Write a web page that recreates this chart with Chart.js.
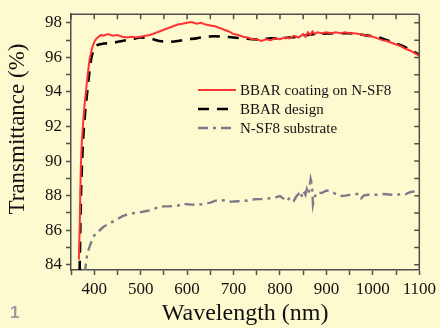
<!DOCTYPE html>
<html>
<head>
<meta charset="utf-8">
<script src="https://cdn.jsdelivr.net/npm/chart.js@4"></script>
<style>
  body { margin: 0; background: #fefacf; }
  #wrap { position: relative; width: 440px; height: 328px; background: #fefacf; }
  #num { position: absolute; left: 10px; top: 303px; font: bold 17px "Liberation Sans", Arial, sans-serif; color: #9a9a9a; }
</style>
</head>
<body>
<div id="wrap">
  <canvas id="linechart" width="440" height="328"></canvas>
  <div id="num">1</div>
</div>
<script>
// BBAR coating on N-SF8 (measured)
var coatWl = [367, 369, 371, 373, 376, 379, 382, 386, 390, 395, 400, 405, 410, 415, 420, 430, 440, 450, 460, 470,
  480, 490, 500, 510, 520, 530, 540, 550, 560, 570, 580, 590, 600, 610, 620, 630, 640, 650, 660, 670,
  680, 690, 700, 710, 720, 730, 740, 750, 760, 770, 780, 790, 800, 810, 820, 830, 840, 850, 855, 860,
  865, 870, 875, 880, 890, 900, 910, 920, 930, 940, 950, 960, 970, 980, 990, 1000, 1010, 1020, 1030, 1040,
  1050, 1060, 1070, 1080, 1090, 1100];
var coatT = [84.3, 86.5, 89.5, 91.0, 92.2, 93.2, 94.0, 95.0, 95.9, 96.5, 96.9, 97.1, 97.2, 97.3, 97.25, 97.35, 97.25, 97.3, 97.2, 97.15,
  97.2, 97.15, 97.2, 97.25, 97.3, 97.4, 97.5, 97.6, 97.7, 97.8, 97.9, 97.95, 98.0, 98.05, 97.95, 98.0, 97.9, 97.85, 97.8, 97.7,
  97.6, 97.5, 97.35, 97.3, 97.2, 97.15, 97.05, 97.05, 96.95, 97.05, 97.0, 97.1, 97.05, 97.15, 97.1, 97.25, 97.15, 97.35, 97.2, 97.45,
  97.3, 97.5, 97.35, 97.45, 97.4, 97.45, 97.4, 97.45, 97.4, 97.45, 97.4, 97.4, 97.35, 97.3, 97.25, 97.2, 97.1, 97.0, 96.95, 96.85,
  96.75, 96.65, 96.5, 96.4, 96.25, 96.1];

// BBAR design
var designWl = [368, 370, 372, 374, 376, 378, 381, 385, 389, 394, 400, 405, 420, 440, 460, 480, 500, 520, 540, 560,
  580, 600, 620, 640, 660, 680, 700, 720, 740, 760, 780, 800, 820, 840, 860, 880, 900, 920, 940, 960,
  980, 1000, 1020, 1040, 1060, 1080, 1100];
var designT = [82.5, 86.0, 88.5, 90.0, 91.2, 92.0, 93.0, 94.0, 95.0, 96.0, 96.5, 96.7, 96.8, 96.85, 96.95, 97.05, 97.15, 97.1, 96.95, 96.9,
  96.95, 97.05, 97.1, 97.2, 97.22, 97.2, 97.15, 97.1, 97.05, 97.05, 97.1, 97.1, 97.15, 97.2, 97.3, 97.35, 97.38, 97.4, 97.4, 97.38,
  97.3, 97.22, 97.1, 96.9, 96.7, 96.45, 96.15];

// N-SF8 substrate
var subWl = [380, 383, 387, 392, 398, 405, 412, 420, 430, 440, 450, 460, 470, 480, 490, 500, 510, 520, 530, 540,
  550, 560, 570, 580, 590, 600, 610, 620, 630, 640, 650, 660, 670, 680, 690, 700, 710, 720, 730, 740,
  750, 760, 770, 780, 790, 800, 810, 815, 820, 825, 830, 835, 840, 845, 850, 855, 858, 862, 866, 869,
  871, 874, 880, 890, 900, 910, 920, 930, 940, 950, 960, 970, 975, 980, 990, 1000, 1010, 1020, 1030, 1040,
  1050, 1060, 1070, 1080, 1090, 1100];
var subT = [83.5, 84.3, 84.8, 85.2, 85.6, 85.9, 86.0, 86.2, 86.35, 86.5, 86.65, 86.8, 86.9, 86.98, 87.0, 87.05, 87.1, 87.15, 87.25, 87.35,
  87.38, 87.38, 87.4, 87.42, 87.55, 87.5, 87.48, 87.47, 87.5, 87.55, 87.6, 87.7, 87.75, 87.72, 87.65, 87.66, 87.68, 87.7, 87.72, 87.78,
  87.8, 87.8, 87.82, 87.85, 87.9, 87.98, 87.78, 87.68, 87.85, 87.9, 87.72, 87.95, 88.1, 87.85, 88.3, 88.05, 88.4, 88.15, 88.95, 88.6,
  87.5, 87.9, 88.2, 88.15, 88.3, 88.25, 88.1, 87.98, 88.0, 88.05, 88.1, 88.1, 87.85, 88.0, 88.05, 88.05, 88.05, 88.1, 88.08, 88.05,
  88.02, 88.1, 88.08, 88.2, 88.25, 88.25];

var xTicks = [350, 400, 450, 500, 550, 600, 650, 700, 750, 800, 850, 900, 950, 1000, 1050, 1100];
var yTicks = [84, 85, 86, 87, 88, 89, 90, 91, 92, 93, 94, 95, 96, 97, 98];
var seriesNames = ["BBAR coating on N-SF8", "BBAR design", "N-SF8 substrate"];

function pts(xs, ys) {
  return xs.map(function(x, i) { return { x: x, y: ys[i] }; });
}

var serif = "'Liberation Serif', 'Times New Roman', serif";
var axisColor = "#4e4e4e";

var frame = {
  id: "frame",
  afterDraw: function(chart) {
    var ctx = chart.ctx, a = chart.chartArea;
    var xs = chart.scales.x, ys = chart.scales.y;
    ctx.save();
    ctx.strokeStyle = axisColor;
    ctx.lineWidth = 1.5;
    ctx.beginPath();
    ctx.moveTo(a.left, a.top); ctx.lineTo(a.right, a.top);
    ctx.moveTo(a.right, a.top); ctx.lineTo(a.right, a.bottom);
    xTicks.forEach(function(v) {
      var px = xs.getPixelForValue(v);
      ctx.moveTo(px, a.top); ctx.lineTo(px, a.top + 5);
    });
    yTicks.forEach(function(v) {
      var py = ys.getPixelForValue(v);
      ctx.moveTo(a.right, py); ctx.lineTo(a.right - 5, py);
    });
    ctx.stroke();

    // y title
    ctx.fillStyle = "#111";
    ctx.font = "23px " + serif;
    ctx.textAlign = "center";
    ctx.textBaseline = "middle";
    ctx.translate(18, 129);
    ctx.rotate(-Math.PI / 2);
    ctx.fillText("Transmittance (%)", 0, 0);
    ctx.restore();

    // legend
    var items = chart.data.datasets;
    var rows = [90, 109, 128];
    ctx.save();
    ctx.font = "15px " + serif;
    ctx.textBaseline = "middle";
    ctx.fillStyle = "#111";
    items.forEach(function(ds, i) {
      ctx.beginPath();
      ctx.strokeStyle = ds.borderColor;
      ctx.lineWidth = ds.borderWidth;
      ctx.setLineDash(ds.borderDash || []);
      ctx.moveTo(198, rows[i]);
      ctx.lineTo(236, rows[i]);
      ctx.stroke();
      ctx.setLineDash([]);
      ctx.fillText(ds.label, 240, rows[i] + 1);
    });
    ctx.restore();
  }
};

var ctx = document.getElementById("linechart").getContext("2d");
var myLineChart = new Chart(ctx, {
  type: "line",
  data: {
    datasets: [
      {
        label: seriesNames[0],
        data: pts(coatWl, coatT),
        borderColor: "#ff3333",
        borderWidth: 2,
        pointRadius: 0,
        tension: 0
      },
      {
        label: seriesNames[1],
        data: pts(designWl, designT),
        borderColor: "#000000",
        borderWidth: 2.6,
        borderDash: [11, 8],
        pointRadius: 0,
        tension: 0.3
      },
      {
        label: seriesNames[2],
        data: pts(subWl, subT),
        borderColor: "#7c7c88",
        borderWidth: 2.4,
        borderDash: [10, 5, 3, 5],
        pointRadius: 0,
        tension: 0
      }
    ]
  },
  options: {
    responsive: false,
    animation: false,
    layout: { padding: { top: 8, right: 18, left: 0, bottom: 0 } },
    plugins: {
      legend: { display: false },
      tooltip: { enabled: false }
    },
    scales: {
      x: {
        type: "linear",
        min: 350,
        max: 1100,
        afterBuildTicks: function(scale) {
          scale.ticks = xTicks.map(function(v) { return { value: v }; });
        },
        afterFit: function(scale) { scale.height = 58; },
        ticks: {
          autoSkip: false,
          maxRotation: 0,
          padding: 4,
          color: "#111",
          font: { family: serif, size: 17 },
          callback: function(v) { return (v % 100 === 0) ? String(v) : ""; }
        },
        grid: { drawOnChartArea: false, tickLength: 5, color: axisColor, tickWidth: 1.5 },
        border: { color: axisColor, width: 1.5 },
        title: {
          display: true,
          text: "Wavelength (nm)",
          color: "#111",
          font: { family: serif, size: 24 },
          padding: { top: 0, bottom: 0 }
        }
      },
      y: {
        min: 83.7,
        max: 98.5,
        afterBuildTicks: function(scale) {
          scale.ticks = yTicks.map(function(v) { return { value: v }; });
        },
        afterFit: function(scale) { scale.width = 71; },
        ticks: {
          autoSkip: false,
          padding: 4,
          color: "#111",
          font: { family: serif, size: 17 },
          callback: function(v) { return (v % 2 === 0) ? String(v) : ""; }
        },
        grid: { drawOnChartArea: false, tickLength: 5, color: axisColor, tickWidth: 1.5 },
        border: { color: axisColor, width: 1.5 }
      }
    }
  },
  plugins: [frame]
});
</script>
</body>
</html>
